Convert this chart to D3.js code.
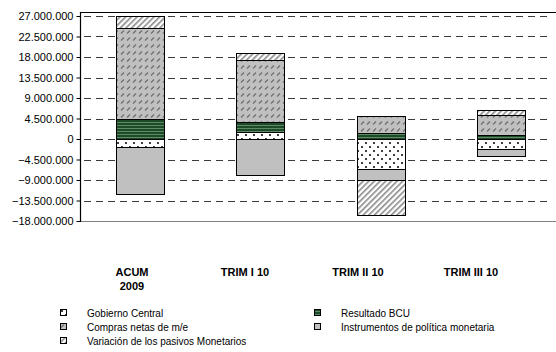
<!DOCTYPE html>
<html>
<head>
<meta charset="utf-8">
<script src="https://cdn.jsdelivr.net/npm/d3@7"></script>
<style>
  html, body { margin: 0; padding: 0; background: #fff; }
  svg { display: block; font-family: "Liberation Sans", Arial, sans-serif; }
</style>
</head>
<body>
<svg id="chart" width="556" height="352"></svg>
<script>
// Periods shown on the x axis
const categories = ["ACUM 2009", "TRIM I 10", "TRIM II 10", "TRIM III 10"];

// Series (in stacking order) and their values per period
const seriesNames = [
  "Gobierno Central",
  "Resultado BCU",
  "Compras netas de m/e",
  "Instrumentos de política monetaria",
  "Variación de los pasivos Monetarios"
];
const gobiernoCentral = [-1800000, 1500000, -6600000, -2300000];
const resultadoBCU    = [4500000, 2300000, 1250000, 900000];
const comprasNetas    = [19800000, 13500000, 3900000, 4300000];
const instrumentos    = [-10300000, -8000000, -2400000, -1500000];
const variacionPasivos = [2700000, 1500000, -7600000, 1200000];

// Y axis ticks
const yTicks = [27000000, 22500000, 18000000, 13500000, 9000000, 4500000, 0,
                -4500000, -9000000, -13500000, -18000000];

const seriesValues = [gobiernoCentral, resultadoBCU, comprasNetas, instrumentos, variacionPasivos];
const rows = categories.map((c, i) => {
  const r = { cat: c };
  seriesNames.forEach((s, k) => { r[s] = seriesValues[k][i]; });
  return r;
});

const svg = d3.select("#chart");
const plot = { left: 80, right: 561, top: 12, bottom: 221 };

const x = d3.scaleBand().domain(categories).range([plot.left, plot.right]).paddingInner(0.6).paddingOuter(0.3);
const xLabel = d3.scaleBand().domain(categories).range([75.5, 527.5]);
const y = d3.scaleLinear().domain([-18000000, 27000000]).range([221, 16]);

// Fill patterns
const defs = svg.append("defs");

const pDots = defs.append("pattern").attr("id", "pDots").attr("patternUnits", "userSpaceOnUse")
  .attr("width", 8).attr("height", 8);
pDots.append("rect").attr("width", 8).attr("height", 8).attr("fill", "#fff");
pDots.append("circle").attr("cx", 2).attr("cy", 3).attr("r", 1).attr("fill", "#000");
pDots.append("circle").attr("cx", 6).attr("cy", 7).attr("r", 1).attr("fill", "#000");

const pGreen = defs.append("pattern").attr("id", "pGreen").attr("patternUnits", "userSpaceOnUse")
  .attr("width", 4).attr("height", 3);
pGreen.append("rect").attr("width", 4).attr("height", 3).attr("fill", "#1d4a29");
pGreen.append("rect").attr("y", 2).attr("width", 4).attr("height", 1).attr("fill", "#5f8a66");

const pCompras = defs.append("pattern").attr("id", "pCompras").attr("patternUnits", "userSpaceOnUse")
  .attr("width", 6).attr("height", 7);
pCompras.append("rect").attr("width", 6).attr("height", 7).attr("fill", "#c0c0c0");
pCompras.append("line").attr("x1", 1).attr("y1", 5.5).attr("x2", 4).attr("y2", 2.5)
  .attr("stroke", "#6e6e6e").attr("stroke-width", 1.2);

const pHatch = defs.append("pattern").attr("id", "pHatch").attr("patternUnits", "userSpaceOnUse")
  .attr("width", 4).attr("height", 4).attr("patternTransform", "rotate(45)");
pHatch.append("rect").attr("width", 4).attr("height", 4).attr("fill", "#fff");
pHatch.append("rect").attr("width", 1.6).attr("height", 4).attr("fill", "#8a8a8a");

const fills = ["url(#pDots)", "url(#pGreen)", "url(#pCompras)", "#c0c0c0", "url(#pHatch)"];

// Dashed gridlines
svg.append("g").selectAll("line").data(yTicks).join("line")
  .attr("x1", plot.left).attr("x2", 552)
  .attr("y1", d => Math.round(y(d)) + 0.5).attr("y2", d => Math.round(y(d)) + 0.5)
  .attr("stroke", "#3a3a3a").attr("stroke-width", 1)
  .attr("stroke-dasharray", "7,5").attr("stroke-dashoffset", -4);

// Plot frame: top and bottom
svg.append("line").attr("x1", plot.left).attr("x2", 556).attr("y1", plot.top + 0.5).attr("y2", plot.top + 0.5)
  .attr("stroke", "#000");
svg.append("line").attr("x1", plot.left).attr("x2", 556).attr("y1", plot.bottom + 0.5).attr("y2", plot.bottom + 0.5)
  .attr("stroke", "#808080");

// Stacked bars
const stack = d3.stack().keys(seriesNames).offset(d3.stackOffsetDiverging);
const stacked = stack(rows);

svg.append("g").selectAll("g").data(stacked).join("g")
  .attr("fill", (d, i) => fills[i])
  .selectAll("rect").data(d => d).join("rect")
  .attr("x", d => Math.round(x(d.data.cat)) + 0.5)
  .attr("width", Math.round(x.bandwidth()))
  .attr("y", d => Math.round(y(Math.max(d[0], d[1]))) + 0.5)
  .attr("height", d => Math.round(y(Math.min(d[0], d[1]))) - Math.round(y(Math.max(d[0], d[1]))))
  .attr("stroke", "#000").attr("stroke-width", 1);

// Left axis
const yAxis = d3.axisLeft(y).tickValues(yTicks).tickSize(4).tickPadding(3)
  .tickFormat(d => d3.format(",")(d).replace(/,/g, "."));
const gy = svg.append("g").attr("transform", `translate(${plot.left + 0.5},0)`).call(yAxis);
gy.select(".domain").remove();
gy.selectAll(".tick line").attr("stroke", "#000");
gy.selectAll(".tick text").attr("font-size", 11).attr("fill", "#000")
  .attr("font-family", "'Liberation Sans', Arial, sans-serif");
svg.append("line").attr("x1", plot.left + 0.5).attr("x2", plot.left + 0.5)
  .attr("y1", plot.top).attr("y2", plot.bottom + 1).attr("stroke", "#000").attr("stroke-width", 1.2);

// Category labels
const catG = svg.append("g").attr("font-size", 11).attr("font-weight", "bold").attr("text-anchor", "middle");
categories.forEach(c => {
  const cx = xLabel(c) + xLabel.bandwidth() / 2;
  const t = catG.append("text").attr("x", cx).attr("y", 276);
  if (c === "ACUM 2009") {
    t.append("tspan").attr("x", cx).text("ACUM");
    t.append("tspan").attr("x", cx).attr("dy", 14).text("2009");
  } else {
    t.text(c);
  }
});

// Legend
const legendItems = [
  { k: 0, x: 60, y: 313 },
  { k: 1, x: 314, y: 313 },
  { k: 2, x: 60, y: 327 },
  { k: 3, x: 314, y: 327 },
  { k: 4, x: 60, y: 341 }
];
const lg = svg.append("g").attr("font-size", 10);
legendItems.forEach(it => {
  lg.append("rect").attr("x", it.x + 0.5).attr("y", it.y - 3.5).attr("width", 6).attr("height", 6)
    .attr("fill", fills[it.k]).attr("stroke", "#000");
  lg.append("text").attr("x", it.x + 27).attr("y", it.y + 3.5).text(seriesNames[it.k]);
});
</script>
</body>
</html>
